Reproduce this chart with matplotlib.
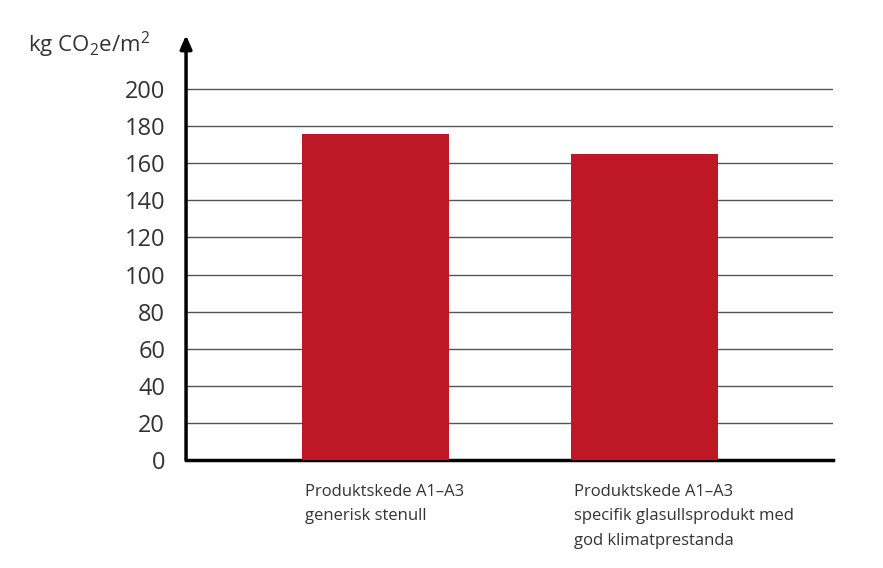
import numpy as np
import matplotlib
matplotlib.use("Agg")
import matplotlib.pyplot as plt

plt.rcParams["font.family"] = ["Open Sans", "DejaVu Sans"]
plt.rcParams["mathtext.default"] = "regular"

# Klimatpåverkan per m2
categories = [
    "Produktskede A1\u2013A3\ngenerisk stenull",
    "Produktskede A1\u2013A3\nspecifik glasullsprodukt med\ngod klimatprestanda",
]
values = [176, 165]
yticks = list(range(0, 201, 20))

bar_color = "#BE1826"
text_color = "#333333"

fig = plt.figure(figsize=(8.83, 5.68), dpi=100)
ax = fig.add_axes([0.2107, 0.190, 0.7327, 0.748])

x = np.arange(len(values))
width = 0.546
ax.bar(x, values, width=width, color=bar_color, zorder=3)

ax.set_xlim(-0.704, 1.70)
ax.set_ylim(0, 229)

# horisontella stödlinjer
for t in yticks[1:]:
    ax.axhline(t, color="#555555", lw=1, zorder=1)

ax.set_yticks(yticks)
ax.set_yticklabels([str(t) for t in yticks], fontsize=17, color=text_color)
ax.tick_params(axis="y", length=0, pad=15)
ax.set_xticks([])

for s in ["top", "right", "left"]:
    ax.spines[s].set_visible(False)
ax.spines["bottom"].set_linewidth(2.5)
ax.spines["bottom"].set_color("black")

# y-axel med pil
ax.annotate("", xy=(0, 1.0), xytext=(0, 0), xycoords="axes fraction",
            arrowprops=dict(arrowstyle="-|>,head_length=0.8,head_width=0.35",
                            color="black", lw=2.5, shrinkA=0, shrinkB=0))

# kategorietiketter under staplarna
for xi, lab in zip(x, categories):
    ax.text(xi - width / 2 + 0.01, -13, lab, ha="left", va="top",
            fontsize=12, color=text_color, linespacing=1.68)

fig.text(28 / 883, 1 - 45 / 568, "kg CO$_2$e/m$^2$", ha="left", va="center",
         fontsize=16, color=text_color)

fig.savefig("out.png", dpi=100, facecolor="white")
